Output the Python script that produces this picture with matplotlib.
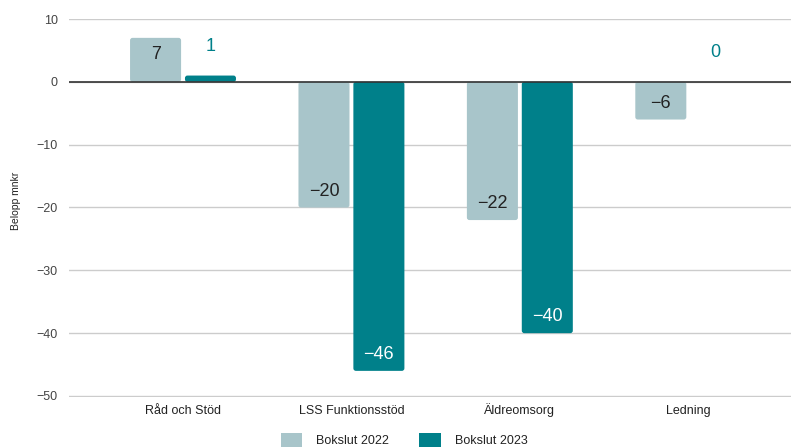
import matplotlib
matplotlib.use("Agg")
import matplotlib.pyplot as plt
from matplotlib.patches import FancyBboxPatch, Patch
import numpy as np

categories = ["Råd och Stöd", "LSS Funktionsstöd", "Äldreomsorg", "Ledning"]
bokslut_2022 = [7, -20, -22, -6]
bokslut_2023 = [1, -46, -40, 0]
series_names = ["Bokslut 2022", "Bokslut 2023"]
y_ticks = [10, 0, -10, -20, -30, -40, -50]

c22 = "#a8c5ca"
c23 = "#00808a"

plt.rcParams['font.family'] = ['Liberation Sans', 'DejaVu Sans']

fig = plt.figure(figsize=(7.91, 4.48), dpi=100)
ax = fig.add_axes([69/791, (448-397)/448, 1 - 69/791, (397-19)/448])
ax.set_xlim(-0.677, 3.61)
ax.set_ylim(-50.16, 10)

for s in ax.spines.values():
    s.set_visible(False)
ax.set_yticks(y_ticks)
ax.set_yticklabels([f"{v}".replace("-", "\u2212") for v in y_ticks])
ax.yaxis.grid(True, color="#cccccc", linewidth=1)
ax.set_axisbelow(True)
ax.tick_params(axis="both", length=0, labelsize=9, colors="#444444")
ax.tick_params(axis="y", pad=8)
ax.tick_params(axis="x", pad=12)
ax.axhline(0, color="#333333", linewidth=1.2, zorder=3)

x = np.arange(len(categories))
ax.set_xticks(x)
ax.set_xticklabels(categories, fontsize=9, color="#222222")
for lab in ax.get_xticklabels():
    lab.set_verticalalignment("baseline")

w = 0.303
off = 0.163
px_per_unit = (396 - 19) / 60.0

def fmt(v):
    return f"{v}".replace("-", "\u2212")

def draw_bar(xc, v, color):
    if v == 0:
        return
    bottom = min(0, v)
    h = abs(v)
    p = FancyBboxPatch((xc - w/2, bottom), w, h,
                       boxstyle="round,pad=0,rounding_size=0.015",
                       mutation_aspect=168.3 / px_per_unit,
                       facecolor=color, edgecolor="none", zorder=2)
    ax.add_patch(p)

for i in range(len(categories)):
    v = bokslut_2022[i]
    draw_bar(x[i] - off, v, c22)
    yl = v - np.sign(v) * 2.6 if v != 0 else 0
    ax.text(x[i] - off, yl, fmt(v), ha="center", va="center",
            fontsize=13, color="#222222", zorder=4)

    v = bokslut_2023[i]
    draw_bar(x[i] + off, v, c23)
    if abs(v) >= 5:
        yl = v - np.sign(v) * 2.6
        ax.text(x[i] + off, yl, fmt(v), ha="center", va="center",
                fontsize=13, color="white", zorder=4)
    else:
        ax.text(x[i] + off, max(v, 0) + 4.6, fmt(v), ha="center", va="center",
                fontsize=13, color=c23, zorder=4)

ax.set_ylabel("Belopp mnkr", fontsize=7.5, color="#222222")
ax.yaxis.set_label_coords(-0.066, 0.52)

handles = [Patch(facecolor=c22, edgecolor="none"), Patch(facecolor=c23, edgecolor="none")]
fig.legend(handles, series_names, loc="center", bbox_to_anchor=(404/791, 1 - 440/448),
           ncol=2, frameon=False, fontsize=9, handlelength=1.75, handleheight=1.3,
           columnspacing=2.4, handletextpad=1.1, labelcolor="#222222")

fig.savefig("out.png", dpi=100)
